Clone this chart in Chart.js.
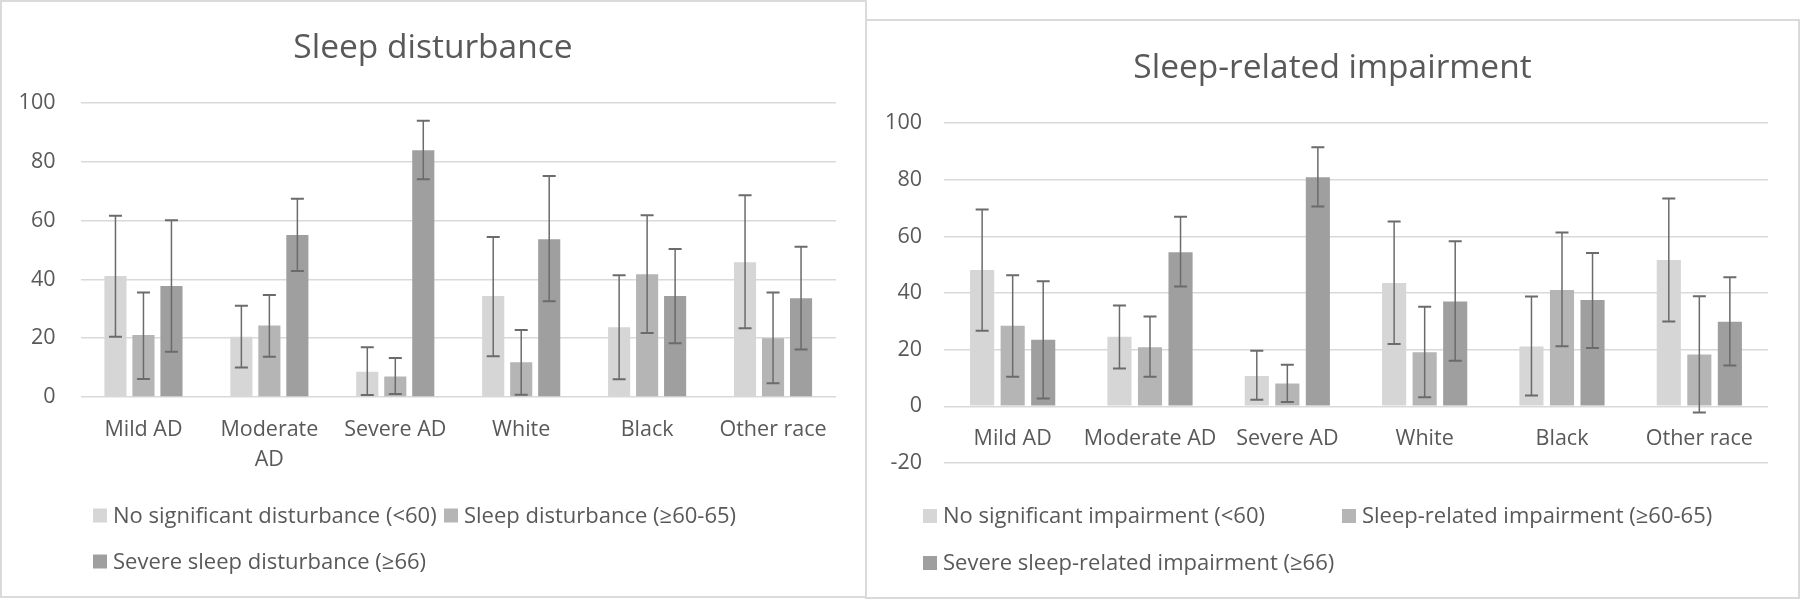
<!DOCTYPE html>
<html>
<head>
<meta charset="utf-8">
<script src="https://cdn.jsdelivr.net/npm/chart.js@4.4.1/dist/chart.umd.min.js"></script>
<style>
  html, body { margin: 0; padding: 0; background: #ffffff; }
  body { width: 1800px; height: 600px; position: relative; overflow: hidden; }
  .frame { position: absolute; box-sizing: border-box; border: 2px solid #dadada; background: #fff; }
  canvas { position: absolute; }
</style>
</head>
<body>
<div class="frame" style="left:0px;top:0px;width:867px;height:598px;"></div>
<div class="frame" style="left:865px;top:19px;width:935px;height:580px;"></div>
<canvas id="left" width="866" height="598" style="left:0px;top:0px;"></canvas>
<canvas id="right" width="933" height="578" style="left:866px;top:20px;"></canvas>
<script>
// ---------- Data: Sleep disturbance ----------
const categoriesLeft = ['Mild AD', ['Moderate', 'AD'], 'Severe AD', 'White', 'Black', 'Other race'];
const seriesNamesLeft = ['No significant disturbance (<60)', 'Sleep disturbance (\u226560-65)', 'Severe sleep disturbance (\u226566)'];
const noDist     = [41.2, 20.5, 8.6, 34.4, 23.7, 45.9];
const noDistLow  = [20.5, 10.0, 0.7, 13.9, 6.0, 23.4];
const noDistHigh = [61.7, 31.1, 16.9, 54.5, 41.4, 68.7];
const dist       = [21.1, 24.3, 7.0, 11.8, 41.8, 20.0];
const distLow    = [6.1, 13.7, 1.0, 0.8, 21.8, 4.7];
const distHigh   = [35.6, 34.7, 13.3, 22.8, 61.9, 35.6];
const sevDist     = [37.8, 55.1, 84.0, 53.7, 34.4, 33.6];
const sevDistLow  = [15.4, 42.9, 74.1, 32.6, 18.3, 16.2];
const sevDistHigh = [60.2, 67.5, 94.0, 75.2, 50.4, 51.1];
const yTicksLeft = [0, 20, 40, 60, 80, 100];

// ---------- Data: Sleep-related impairment ----------
const categoriesRight = ['Mild AD', 'Moderate AD', 'Severe AD', 'White', 'Black', 'Other race'];
const seriesNamesRight = ['No significant impairment (<60)', 'Sleep-related impairment (\u226560-65)', 'Severe sleep-related impairment (\u226566)'];
const noImp     = [48.2, 24.6, 10.7, 43.6, 21.1, 51.7];
const noImpLow  = [26.7, 13.4, 2.3, 22.0, 3.8, 30.0];
const noImpHigh = [69.5, 35.6, 19.6, 65.3, 38.8, 73.4];
const imp       = [28.5, 20.9, 8.1, 19.1, 41.1, 18.3];
const impLow    = [10.5, 10.5, 1.5, 3.2, 21.2, -2.2];
const impHigh   = [46.3, 31.7, 14.7, 35.2, 61.4, 38.9];
const sevImp     = [23.5, 54.4, 80.9, 37.0, 37.6, 29.9];
const sevImpLow  = [2.8, 42.3, 70.6, 16.1, 20.6, 14.4];
const sevImpHigh = [44.2, 67.0, 91.5, 58.3, 54.2, 45.6];
const yTicksRight = [-20, 0, 20, 40, 60, 80, 100];

// ---------- Styles ----------
const COLORS = ['#d6d6d6', '#b5b5b5', '#9f9f9f'];
const TEXT = '#595959';
const FONT = '"Open Sans", Lato, sans-serif';
const TICK_SIZE = 21.5;
const LEGEND_SIZE = 22;

// Error bars drawn from dataset low/high arrays via the y scale
const errorBarPlugin = {
  id: 'errorBars',
  afterDatasetsDraw(chart) {
    const ctx = chart.ctx;
    const yScale = chart.scales.y;
    ctx.save();
    ctx.strokeStyle = '#6b6b6b';
    chart.data.datasets.forEach((ds, di) => {
      const meta = chart.getDatasetMeta(di);
      meta.data.forEach((bar, i) => {
        const x = bar.x;
        const yLo = yScale.getPixelForValue(ds.errLow[i]);
        const yHi = yScale.getPixelForValue(ds.errHigh[i]);
        const half = 6.5;
        ctx.lineWidth = 1.5;
        ctx.beginPath();
        ctx.moveTo(x, yLo); ctx.lineTo(x, yHi);
        ctx.stroke();
        ctx.lineWidth = 2;
        ctx.beginPath();
        ctx.moveTo(x - half, yLo); ctx.lineTo(x + half, yLo);
        ctx.moveTo(x - half, yHi); ctx.lineTo(x + half, yHi);
        ctx.stroke();
      });
    });
    ctx.restore();
  }
};

// Grid-style legend (Excel-like columns)
const gridLegendPlugin = {
  id: 'gridLegend',
  afterDraw(chart, args, opts) {
    const ctx = chart.ctx;
    ctx.save();
    ctx.font = opts.fontSize + 'px ' + FONT;
    ctx.textBaseline = 'middle';
    chart.data.datasets.forEach((ds, i) => {
      const col = i % 2, row = Math.floor(i / 2);
      const x = opts.x0 + col * opts.colWidth;
      const y = opts.rows[row];
      ctx.fillStyle = ds.backgroundColor;
      ctx.fillRect(x, y - opts.box / 2, opts.box, opts.box);
      ctx.fillStyle = TEXT;
      ctx.fillText(ds.label, x + opts.box + opts.gap, y + 1);
    });
    ctx.restore();
  }
};

function makeDatasets(names, vals, lows, highs) {
  return names.map((n, i) => ({
    label: n,
    data: vals[i],
    errLow: lows[i],
    errHigh: highs[i],
    backgroundColor: COLORS[i],
    borderWidth: 0,
    categoryPercentage: 0.667,
    barPercentage: 0.79
  }));
}

function makeChart(id, cfg) {
  return new Chart(document.getElementById(id), {
    type: 'bar',
    data: {
      labels: cfg.labels,
      datasets: makeDatasets(cfg.names, cfg.vals, cfg.lows, cfg.highs)
    },
    plugins: [errorBarPlugin, gridLegendPlugin],
    options: {
      responsive: false,
      animation: false,
      devicePixelRatio: 1,
      layout: { padding: { left: 0, right: 0, top: 0, bottom: cfg.padBottom } },
      plugins: {
        legend: { display: false },
        tooltip: { enabled: false },
        title: {
          display: true,
          text: cfg.title,
          color: TEXT,
          font: { family: FONT, size: 33.5, weight: 'normal', lineHeight: 1.2 },
          padding: cfg.titlePadding
        },
        gridLegend: cfg.legend
      },
      scales: {
        x: {
          position: cfg.xPosition,
          grid: { display: false, drawTicks: false },
          border: { display: false },
          ticks: {
            color: TEXT,
            font: { family: FONT, size: TICK_SIZE, lineHeight: 1.4 },
            padding: cfg.xPad,
            maxRotation: 0,
            autoSkip: false
          },
          afterFit: cfg.xFit
        },
        y: {
          min: cfg.yTicks[0],
          max: cfg.yTicks[cfg.yTicks.length - 1],
          afterBuildTicks: (axis) => { axis.ticks = cfg.yTicks.map(v => ({ value: v })); },
          grid: { color: '#d9d9d9', lineWidth: 1.5, drawTicks: false },
          border: { display: false },
          ticks: {
            color: TEXT,
            font: { family: FONT, size: TICK_SIZE },
            padding: cfg.yPad
          },
          afterFit: (axis) => { axis.width = cfg.yWidth; }
        },
        // empty right-hand spacer so the title stays centred on the whole panel
        spacer: {
          type: 'linear',
          position: 'right',
          display: true,
          grid: { display: false, drawTicks: false },
          border: { display: false },
          ticks: { display: false },
          afterFit: (axis) => { axis.width = cfg.rightSpace; }
        }
      }
    }
  });
}

makeChart('left', {
  labels: categoriesLeft,
  names: seriesNamesLeft,
  vals: [noDist, dist, sevDist],
  lows: [noDistLow, distLow, sevDistLow],
  highs: [noDistHigh, distHigh, sevDistHigh],
  yTicks: yTicksLeft,
  title: 'Sleep disturbance',
  titlePadding: { top: 28, bottom: 35 },
  padBottom: 121,
  rightSpace: 30,
  xPosition: 'bottom',
  xPad: 18,
  xFit: (axis) => { axis.height = 80; },
  yPad: 25,
  yWidth: 80.5,
  legend: { x0: 93, colWidth: 351, rows: [515.5, 561.5], box: 14, gap: 6, fontSize: LEGEND_SIZE }
});

makeChart('right', {
  labels: categoriesRight,
  names: seriesNamesRight,
  vals: [noImp, imp, sevImp],
  lows: [noImpLow, impLow, sevImpLow],
  highs: [noImpHigh, impHigh, sevImpHigh],
  yTicks: yTicksRight,
  title: 'Sleep-related impairment',
  titlePadding: { top: 28, bottom: 35 },
  padBottom: 135,
  rightSpace: 31,
  xPosition: { y: 0 },
  xPad: 17,
  xFit: undefined,
  yPad: 22,
  yWidth: 78,
  legend: { x0: 57, colWidth: 419, rows: [496, 543], box: 14, gap: 6, fontSize: LEGEND_SIZE }
});
</script>
</body>
</html>
